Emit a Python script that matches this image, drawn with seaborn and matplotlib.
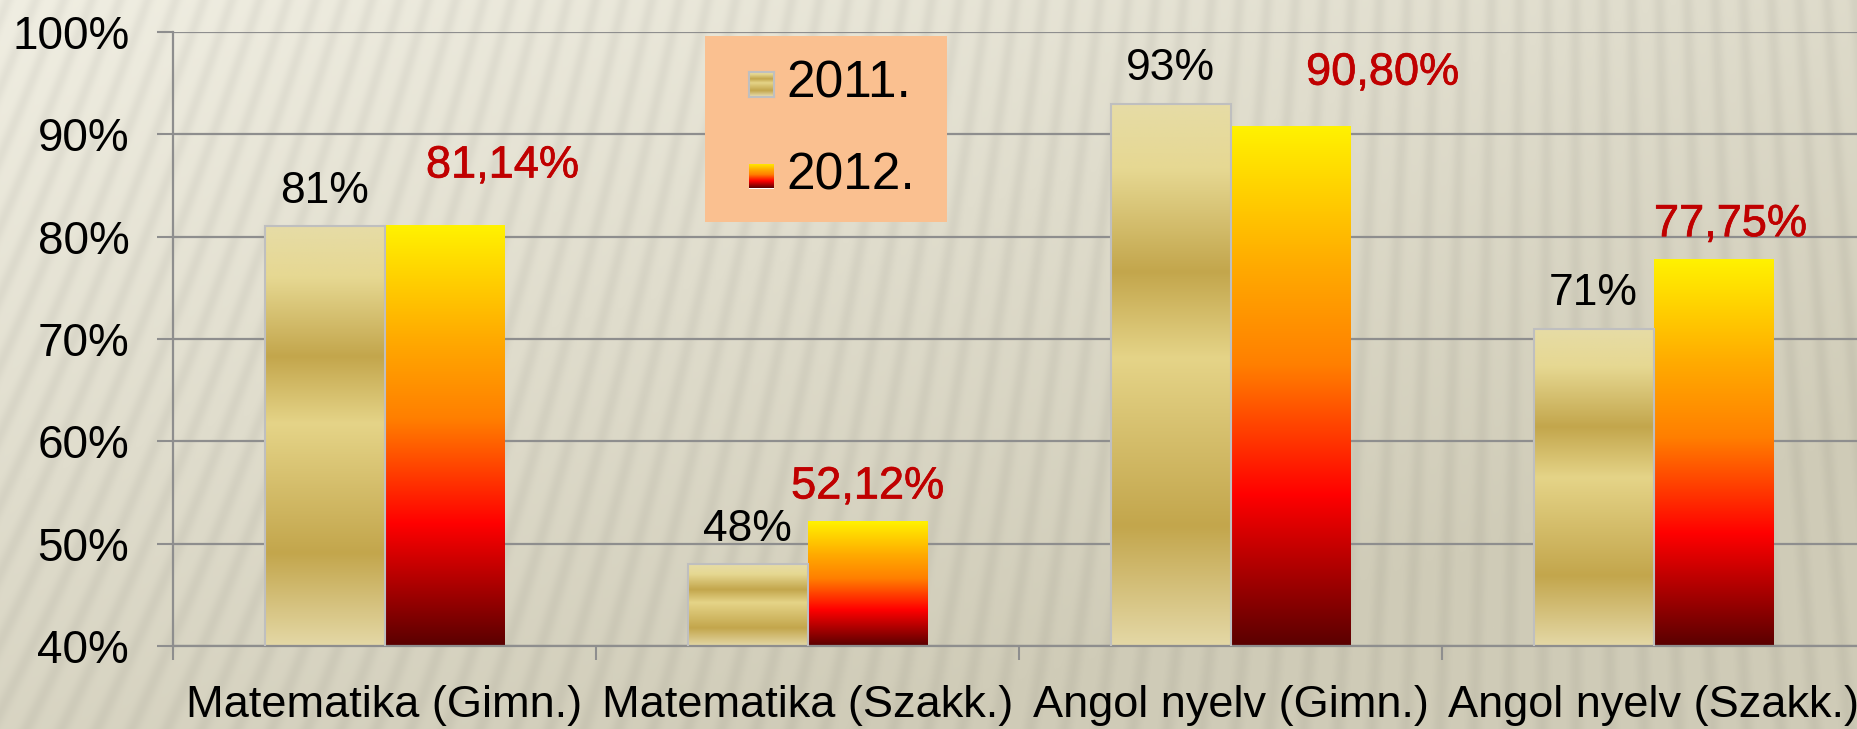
import numpy as np
import pandas as pd
import matplotlib
matplotlib.use("Agg")
import matplotlib.pyplot as plt
from matplotlib.colors import LinearSegmentedColormap
from matplotlib.patches import Rectangle
import matplotlib.patheffects as pe
import seaborn as sns

# ---- data ----
categories = ["Matematika (Gimn.)", "Matematika (Szakk.)", "Angol nyelv (Gimn.)", "Angol nyelv (Szakk.)"]
years = ["2011.", "2012."]
values_2011 = [81, 48, 93, 71]
values_2012 = [81.14, 52.12, 90.80, 77.75]
labels_2011 = ["81%", "48%", "93%", "71%"]
labels_2012 = ["81,14%", "52,12%", "90,80%", "77,75%"]
yticks = [40, 50, 60, 70, 80, 90, 100]
ytick_labels = ["40%", "50%", "60%", "70%", "80%", "90%", "100%"]

# manual label offsets (pixels) for the red labels, as in the original slide
red_offsets_px = [(58, 59), (0, 35), (92, 53), (17, 35)]

df = pd.DataFrame({
    "cat": categories * 2,
    "year": [years[0]] * 4 + [years[1]] * 4,
    "val": values_2011 + values_2012,
})

W, H = 1857, 729
fig = plt.figure(figsize=(W / 100, H / 100), dpi=100)

# ---- background texture ----
yy, xx = np.mgrid[0:H, 0:W].astype(float)
xn = xx / W
tn = yy / H
f = np.clip(0.75 * tn + 0.55 * xn, 0, 1)[..., None]
light = np.array([0xF0, 0xEE, 0xE2]) / 255
dark = np.array([0xD0, 0xCC, 0xB8]) / 255
bg = light * (1 - f) + dark * f
ang = np.radians(22 - 26 * xn)
phase = (xx + yy * np.tan(ang)) / 28.0
stripe = (0.5 + 0.5 * np.sin(2 * np.pi * phase)) ** 2
bg = bg * (1 - 0.045 * stripe[..., None])
bgax = fig.add_axes([0, 0, 1, 1], zorder=-5)
bgax.imshow(np.clip(bg, 0, 1), aspect="auto", interpolation="bilinear")
bgax.axis("off")

# ---- main axes ----
ax = fig.add_axes([173 / W, 83 / H, 1692 / W, 614 / H])
ax.patch.set_alpha(0)

sns.barplot(data=df, x="cat", y="val", hue="year", hue_order=years,
            order=categories, width=0.567, palette=["#DCCB80", "#FF8000"],
            legend=False, ax=ax, errorbar=None, saturation=1)

gold = LinearSegmentedColormap.from_list("gold", [
    (0.00, "#E6DCA6"), (0.12, "#E6D892"), (0.31, "#C3A64C"),
    (0.47, "#E5D488"), (0.78, "#C3A64C"), (1.00, "#E4D8A6")])
fire = LinearSegmentedColormap.from_list("fire", [
    (0.00, "#FFF200"), (0.27, "#FFAA00"), (0.46, "#FF7F00"),
    (0.71, "#FF0000"), (1.00, "#5A0000")])
grad = np.linspace(0, 1, 256)[:, None]

for ci, (cont, cmap) in enumerate(zip(ax.containers, [gold, fire])):
    for bar in cont:
        x0 = bar.get_x()
        w = bar.get_width()
        top = bar.get_y() + bar.get_height()
        ax.imshow(grad, cmap=cmap, extent=(x0, x0 + w, 40, top), origin="upper",
                  aspect="auto", zorder=2, interpolation="bilinear")
        bar.set_facecolor("none")
        bar.set_zorder(3)
        if ci == 0:
            bar.set_edgecolor("#BFBFBF")
            bar.set_linewidth(1.5)
        else:
            bar.set_edgecolor("none")
ax.set_xlim(-0.5, 3.5)
ax.set_ylim(40, 100)

# value labels
cont11, cont12 = ax.containers[0], ax.containers[1]
for bar, lab in zip(cont11, labels_2011):
    cx = bar.get_x() + bar.get_width() / 2
    ax.annotate(lab, (cx, bar.get_y() + bar.get_height()), xytext=(0, 35),
                textcoords="offset pixels", ha="center", va="center",
                fontsize=32, color="black", family="Liberation Sans", zorder=6)
red = "#C00000"
for bar, lab, off in zip(cont12, labels_2012, red_offsets_px):
    cx = bar.get_x() + bar.get_width() / 2
    ax.annotate(lab, (cx, bar.get_y() + bar.get_height()), xytext=off,
                textcoords="offset pixels", ha="center", va="center",
                fontsize=32.5, color=red, family="Liberation Sans", zorder=6,
                path_effects=[pe.withStroke(linewidth=0.5, foreground=red)])

# axes styling
gc = "#8E8E8E"
ax.set_yticks(yticks)
ax.set_yticklabels(ytick_labels, fontsize=33, family="Liberation Sans")
ax.yaxis.grid(True, color=gc, linewidth=1.6)
ax.set_axisbelow(True)
ax.tick_params(axis="y", length=11.5, width=1.5, color=gc, pad=20)

ax.set_xticks([-0.5, 0.5, 1.5, 2.5, 3.5])
ax.set_xticklabels([])
ax.set_xticks([0, 1, 2, 3], minor=True)
ax.set_xticklabels(categories, minor=True, fontsize=32.5, family="Liberation Sans")
ax.tick_params(axis="x", which="major", length=10, width=1.5, color=gc)
ax.tick_params(axis="x", which="minor", length=0, pad=28)
ax.set_xlabel("")
ax.set_ylabel("")
for s in ["top", "right"]:
    ax.spines[s].set_visible(False)
for s in ["left", "bottom"]:
    ax.spines[s].set_color(gc)
    ax.spines[s].set_linewidth(1.6)

# ---- legend (manual box) ----
fig.patches.append(Rectangle((705 / W, 1 - 222 / H), 242 / W, 186 / H,
                             transform=fig.transFigure, facecolor="#FAC090",
                             edgecolor="none", zorder=5))
for i, (yr, cmap) in enumerate(zip(years, [gold, fire])):
    yc = [84, 176][i]
    sax = fig.add_axes([749 / W, 1 - (yc + 12.5) / H, 25 / W, 25 / H], zorder=6)
    sax.imshow(grad, cmap=cmap, aspect="auto", extent=(0, 1, 0, 1))
    sax.set_xticks([]); sax.set_yticks([])
    for sp in sax.spines.values():
        sp.set_visible(i == 0)
        sp.set_color("#BFBFBF")
        sp.set_linewidth(1.5)
    fig.text(786 / W, 1 - yc / H, yr, ha="left", va="center", fontsize=37,
             family="Liberation Sans", zorder=7)

fig.savefig("out.png", dpi=100)
